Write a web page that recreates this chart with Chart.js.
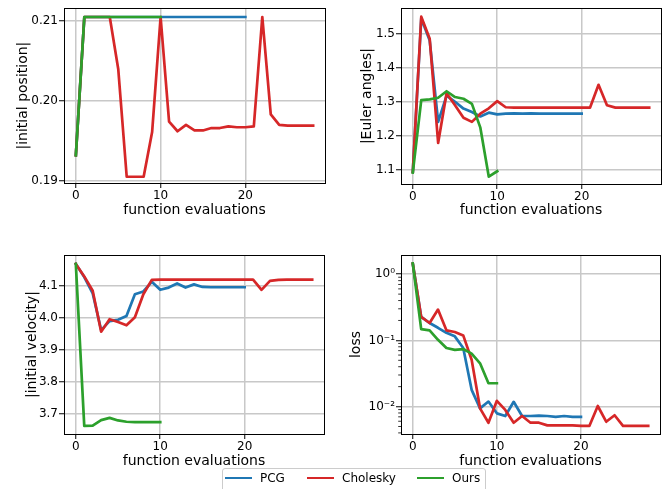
<!DOCTYPE html>
<html><head><meta charset="utf-8">
<script src="https://cdn.jsdelivr.net/npm/chart.js@4.4.1/dist/chart.umd.min.js"></script>
<style>
html,body{margin:0;padding:0;background:#fff;width:672px;height:489px;overflow:hidden;font-family:'DejaVu Sans',sans-serif;}
.box{position:absolute;}
#legend{position:absolute;left:222px;top:468px;width:264px;height:30px;border:1px solid #cccccc;border-radius:3px;box-sizing:border-box;background:#fff;font:12px 'DejaVu Sans',sans-serif;color:#000;}
.item{position:absolute;top:0;height:18px;display:flex;align-items:center;white-space:nowrap}
.sw{display:inline-block;width:27px;height:2.5px;margin-right:8px}
</style></head><body>
<div class="box" style="left:0;top:0"><canvas id="c1" width="336" height="240"></canvas></div>
<div class="box" style="left:336px;top:0"><canvas id="c2" width="336" height="240"></canvas></div>
<div class="box" style="left:0;top:240px"><canvas id="c3" width="336" height="249"></canvas></div>
<div class="box" style="left:336px;top:240px"><canvas id="c4" width="336" height="249"></canvas></div>
<div id="legend"></div>
<script>
// ---------- data ----------
const evals = [0,1,2,3,4,5,6,7,8,9,10,11,12,13,14,15,16,17,18,19,20,21,22,23,24,25,26,27,28];
const seriesNames = ['PCG', 'Cholesky', 'Ours'];
const xTicks = [0, 10, 20];

const pcgPos  = [0.1932,0.2105,0.2105,0.2105,0.2105,0.2105,0.2105,0.2105,0.2105,0.2105,0.2105,0.2105,0.2105,0.2105,0.2105,0.2105,0.2105,0.2105,0.2105,0.2105,0.2105];
const cholPos = [0.1932,0.2105,0.2105,0.2105,0.2105,0.2040,0.1905,0.1905,0.1905,0.1961,0.2105,0.1974,0.1962,0.1970,0.1963,0.1963,0.1966,0.1966,0.1968,0.1967,0.1967,0.1968,0.2105,0.1983,0.1970,0.1969,0.1969,0.1969,0.1969];
const oursPos = [0.1932,0.2105,0.2105,0.2105,0.2105,0.2105,0.2105,0.2105,0.2105,0.2105,0.2105];
const posTicks = [0.19, 0.20, 0.21];
const posTickLabels = ['0.19', '0.20', '0.21'];

const pcgEul  = [1.094,1.545,1.480,1.241,1.318,1.300,1.280,1.270,1.257,1.268,1.263,1.265,1.266,1.265,1.266,1.265,1.265,1.265,1.265,1.265,1.265];
const cholEul = [1.094,1.550,1.485,1.179,1.325,1.290,1.253,1.241,1.265,1.281,1.302,1.284,1.283,1.283,1.283,1.283,1.283,1.283,1.283,1.283,1.283,1.283,1.350,1.290,1.283,1.283,1.283,1.283,1.283];
const oursEul = [1.092,1.305,1.307,1.312,1.331,1.314,1.309,1.294,1.224,1.080,1.096];
const eulTicks = [1.1, 1.2, 1.3, 1.4, 1.5];
const eulTickLabels = ['1.1', '1.2', '1.3', '1.4', '1.5'];

const pcgVel  = [4.169,4.128,4.077,3.962,3.990,3.994,4.006,4.074,4.083,4.113,4.088,4.095,4.108,4.095,4.105,4.097,4.096,4.096,4.096,4.096,4.096];
const cholVel = [4.169,4.130,4.085,3.957,3.996,3.987,3.977,4.002,4.074,4.119,4.120,4.120,4.120,4.120,4.120,4.120,4.120,4.120,4.120,4.120,4.120,4.120,4.088,4.116,4.119,4.120,4.120,4.120,4.120];
const oursVel = [4.169,3.662,3.663,3.680,3.687,3.679,3.675,3.674,3.674,3.674,3.674];
const velTicks = [3.7, 3.8, 3.9, 4.0, 4.1];
const velTickLabels = ['3.7', '3.8', '3.9', '4.0', '4.1'];

const pcgLoss  = [1.45,0.226,0.183,0.155,0.130,0.115,0.0766,0.0179,0.0094,0.0119,0.0079,0.0072,0.0118,0.0072,0.0072,0.0073,0.0072,0.0070,0.0072,0.0070,0.0070];
const cholLoss = [1.45,0.226,0.183,0.292,0.142,0.134,0.119,0.051,0.0094,0.0057,0.0122,0.0089,0.0057,0.0072,0.0057,0.0057,0.0052,0.0052,0.0052,0.0052,0.0051,0.0051,0.0102,0.0059,0.0074,0.0051,0.0051,0.0051,0.0051];
const oursLoss = [1.45,0.148,0.142,0.102,0.0766,0.072,0.074,0.063,0.045,0.0225,0.0225];
const lossTicks = [1, 0.1, 0.01];
const lossTickLabels = ['10\u2070', '10\u207B\u00B9', '10\u207B\u00B2'];
const lossMinorTicks = [0.004,0.005,0.006,0.007,0.008,0.009,0.02,0.03,0.04,0.05,0.06,0.07,0.08,0.09,0.2,0.3,0.4,0.5,0.6,0.7,0.8,0.9];

// ---------- style ----------
const colors = ['#1f77b4', '#d62728', '#2ca02c'];
const drawOrder = [3, 2, 1];
Chart.defaults.font.family = "'DejaVu Sans', sans-serif";
Chart.defaults.color = '#000';

const framePlugin = {
  id: 'frame',
  afterDatasetsDraw(chart) {
    const {ctx, chartArea: a} = chart;
    ctx.save();
    ctx.strokeStyle = '#000';
    ctx.lineWidth = 1;
    ctx.strokeRect(Math.round(a.left) + 0.5, Math.round(a.top) + 0.5, Math.round(a.right - a.left), Math.round(a.bottom - a.top));
    ctx.restore();
  }
};
const minorTickPlugin = {
  id: 'minorTicks',
  afterDatasetsDraw(chart) {
    const s = chart.scales.y, a = chart.chartArea, ctx = chart.ctx;
    ctx.save();
    ctx.strokeStyle = '#000';
    ctx.lineWidth = 0.8;
    ctx.beginPath();
    lossMinorTicks.forEach(v => {
      const p = s.getPixelForValue(v);
      if (p >= a.top && p <= a.bottom) { ctx.moveTo(a.left, p); ctx.lineTo(a.left - 2.8, p); }
    });
    ctx.stroke();
    ctx.restore();
  }
};

const gridOpts = { color: '#c8c8c8', lineWidth: 1.5, tickColor: '#000', tickWidth: 1, tickLength: 5, drawTicks: true };

function build(id, values, yCfg, L, extraPlugins) {
  return new Chart(document.getElementById(id), {
    type: 'line',
    data: {
      datasets: values.map((vals, k) => ({
        label: seriesNames[k],
        data: vals.map((y, i) => ({x: evals[i], y})),
        borderColor: colors[k], backgroundColor: colors[k],
        borderWidth: 2.7, pointRadius: 0, tension: 0, fill: false,
        borderJoinStyle: 'round', borderCapStyle: 'square', order: drawOrder[k]
      }))
    },
    options: {
      responsive: false, animation: false, events: [],
      layout: { padding: { top: L.top, right: L.right, left: 0, bottom: 0 } },
      plugins: { legend: { display: false }, tooltip: { enabled: false } },
      scales: {
        x: {
          type: 'linear', min: -1.4, max: 29.4, bounds: 'data',
          afterBuildTicks: s => { s.ticks = xTicks.map(v => ({value: v})); },
          afterFit: s => { s.height = L.xh; },
          ticks: { padding: 1, font: { size: 12 }, color: '#000', autoSkip: false, maxRotation: 0, callback: v => String(v) },
          grid: gridOpts, border: { display: false },
          title: { display: true, text: 'function evaluations', font: { size: 14 }, color: '#000', padding: { top: 0, bottom: L.xtp } }
        },
        y: {
          type: yCfg.type, min: yCfg.min, max: yCfg.max, bounds: 'data',
          afterBuildTicks: s => { s.ticks = yCfg.ticks.map(v => ({value: v})); },
          afterFit: s => { s.width = L.yw; },
          ticks: { padding: 1, font: { size: 12 }, color: '#000', autoSkip: false, callback: (v, i) => yCfg.labels[i] },
          grid: gridOpts, border: { display: false },
          title: { display: true, text: yCfg.title, font: { size: 14 }, color: '#000', padding: { top: L.ytp, bottom: 0 } }
        }
      }
    },
    plugins: [framePlugin].concat(extraPlugins || [])
  });
}

build('c1', [pcgPos, cholPos, oursPos],
  { type: 'linear', min: 0.18972, max: 0.2116, ticks: posTicks, labels: posTickLabels, title: '|initial position|' },
  { top: 5, right: 11, yw: 64, xh: 57, xtp: 21.6, ytp: 14.6 });
build('c2', [pcgEul, cholEul, oursEul],
  { type: 'linear', min: 1.0585, max: 1.575, ticks: eulTicks, labels: eulTickLabels, title: '|Euler angles|' },
  { top: 6, right: 11, yw: 65, xh: 56, xtp: 21, ytp: 23.3 });
build('c3', [pcgVel, cholVel, oursVel],
  { type: 'linear', min: 3.6366, max: 4.197, ticks: velTicks, labels: velTickLabels, title: '|initial velocity|' },
  { top: 15, right: 12, yw: 64, xh: 55, xtp: 19.6, ytp: 24.1 });
build('c4', [pcgLoss, cholLoss, oursLoss],
  { type: 'logarithmic', min: 0.00385, max: 1.95, ticks: lossTicks, labels: lossTickLabels, title: 'loss' },
  { top: 15, right: 12, yw: 65, xh: 55, xtp: 19.6, ytp: 11.6 }, [minorTickPlugin]);

// ---------- legend ----------
const legendLeft = [2, 84, 194];
const lg = document.getElementById('legend');
seriesNames.forEach((n, k) => {
  const it = document.createElement('div');
  it.className = 'item';
  it.style.left = legendLeft[k] + 'px';
  const sw = document.createElement('span');
  sw.className = 'sw';
  sw.style.background = colors[k];
  const tx = document.createElement('span');
  tx.textContent = n;
  it.appendChild(sw); it.appendChild(tx);
  lg.appendChild(it);
});
</script>
</body></html>
